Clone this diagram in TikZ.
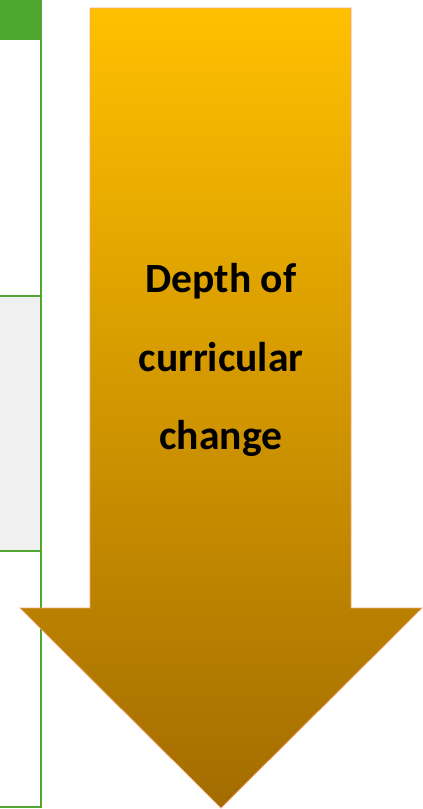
\documentclass[tikz,border=0pt]{standalone}
\usepackage{fontspec}
\setmainfont{Carlito}
\definecolor{tablegreen}{RGB}{78,167,46}
\definecolor{rowgray}{RGB}{240,240,240}
\definecolor{arrowtop}{RGB}{255,192,0}
\definecolor{arrowbottom}{RGB}{163,108,0}
\definecolor{arrowedge}{RGB}{244,164,120}
\begin{document}
\begin{tikzpicture}[x=0.03cm, y=-0.03cm, line join=miter,
	tableline/.style={draw=tablegreen, line width=1.7pt},
	arrowtext/.style={font=\bfseries\fontsize{35.5}{67}\selectfont, align=center}]
	\useasboundingbox (0,0) rectangle (423,809);
	% table fragment on the left
	\fill[rowgray] (0,296) rectangle (41,551);
	\fill[tablegreen] (0,0) rectangle (42,40);
	\draw[tableline] (41,0) -- (41,807) -- (0,807);
	\draw[tableline] (0,296) -- (41,296) (0,551) -- (41,551);
	% big arrow
	\shadedraw[top color=arrowtop, bottom color=arrowbottom, draw=arrowedge, line width=0.6pt]
		(90,8) -- (351,8) -- (351,608) -- (422,608) -- (221,808) -- (20,608) -- (90,608) -- cycle;
	\node[arrowtext] (depth) at (221,360) {Depth of\\curricular\\change};
\end{tikzpicture}
\end{document}
